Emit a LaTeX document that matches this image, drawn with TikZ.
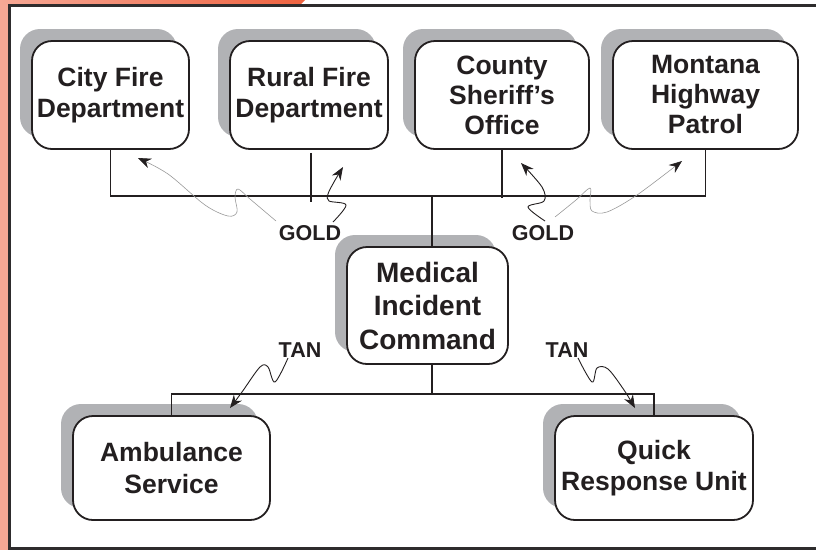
\documentclass[tikz,border=0pt]{standalone}
\usepackage{fontspec}
\setmainfont{Liberation Sans}
\usetikzlibrary{shadows,arrows.meta}
\definecolor{shade}{HTML}{B1B2B5}
\definecolor{ink}{HTML}{231F20}
\definecolor{framec}{HTML}{2E2C2D}
\definecolor{salmon}{HTML}{F6A895}
\definecolor{orangered}{HTML}{EF6340}
\begin{document}
\begin{tikzpicture}[x=1pt,y=-1pt,
 unit/.style={draw=ink, line width=1.8pt, fill=white, rounded corners=20pt, align=center,
   font=\bfseries\fontsize{26.5}{31.5}\selectfont, text=ink, inner sep=0pt,
   drop shadow={shadow xshift=-12pt, shadow yshift=12pt, fill=shade, opacity=1}},
 link/.style={draw=ink, line width=1.8pt},
 tag/.style={font=\bfseries\fontsize{21.5}{24}\selectfont, text=ink, inner sep=1pt},
 wig/.style={line width=0.9pt, draw=ink, -{Stealth[length=13pt,width=10pt,color=ink]}},
 wiggray/.style={line width=0.6pt, draw=gray!80, -{Stealth[length=13pt,width=10pt,color=ink]}},
]
\useasboundingbox (0,0) rectangle (816,550);
% orange frame parts
\fill[salmon] (0,0) rectangle (8,550);
\shade[left color=salmon, right color=orangered] (0,0) -- (305,0) -- (301,4) -- (0,4) -- cycle;
\draw[line width=3pt, framec] (816,5) -- (9,5) -- (9,548) -- (816,548);

% units
\node[unit, minimum width=157pt, minimum height=108pt] (city) at (110.5,95) {City Fire\\Department};
\node[unit, minimum width=158pt, minimum height=108pt] (rural) at (309,95) {Rural Fire\\Department};
\node[unit, minimum width=174pt, minimum height=108pt, font=\bfseries\fontsize{26.5}{30}\selectfont] (county) at (502,95) {County\\Sheriff’s\\Office};
\node[unit, minimum width=185pt, minimum height=108pt, font=\bfseries\fontsize{26.5}{30}\selectfont] (montana) at (705.5,95) {Montana\\Highway\\Patrol};
\node[unit, minimum width=161pt, minimum height=117pt, font=\bfseries\fontsize{28}{33.5}\selectfont] (med) at (427.5,305.5) {Medical\\Incident\\Command};
\node[unit, minimum width=197pt, minimum height=104pt] (amb) at (171.5,468) {Ambulance\\Service};
\node[unit, minimum width=198pt, minimum height=104pt] (qru) at (654,468) {Quick\\Response Unit};

% hubs
\coordinate (hub) at (432,196);
\coordinate (hubb) at (432,394);

% top connectors
\draw[link] (city.south) -- (city.south |- hub) -- (montana.south |- hub) -- (montana.south);
\draw[link] ([xshift=2pt,yshift=-3pt]rural.south) -- ([xshift=2pt,yshift=-6pt]rural.south |- hub);
\draw[link] (county.south) -- ([yshift=-2pt]county.south |- hub);
\draw[link] (hub |- med.north) -- (hub);

% bottom connectors
\draw[link, line width=1.5pt] (hubb |- med.south) -- (hubb);
\draw[link, line width=1.5pt] (amb.north) -- (amb.north |- hubb) -- (qru.north |- hubb) -- (qru.north);

% labels
\node[tag] (gold1) at (310,233) {GOLD};
\node[tag] (gold2) at (543,233) {GOLD};
\node[tag] (tan1) at (300,350) {TAN};
\node[tag] (tan2) at (567,350) {TAN};

% wiggly radio arrows
\draw[wiggray] plot[smooth, tension=0.55] coordinates {(276,221) (250,199) (238,189) (235,197) (237,212) (228,216) (205,205) (168,174) (138,158)};
\draw[wig] plot[smooth, tension=0.55] coordinates {(333,222) (346,205) (329,201) (328,194) (334,182) (343,167)};
\draw[wig] plot[smooth, tension=0.55] coordinates {(545,221) (528,207) (544,201) (542,187) (521,163)};
\draw[wiggray] plot[smooth, tension=0.55] coordinates {(555,217) (576,200) (590,188) (590,200) (592,211) (607,212) (637,195) (682,161)};
\draw[wig] plot[smooth, tension=0.55] coordinates {(288,358) (275,382) (268,367) (260,367) (242,392) (230,408)};
\draw[wig] plot[smooth, tension=0.55] coordinates {(578,358) (592,382) (597,368) (608,369) (624,390) (635,408)};
\end{tikzpicture}
\end{document}
